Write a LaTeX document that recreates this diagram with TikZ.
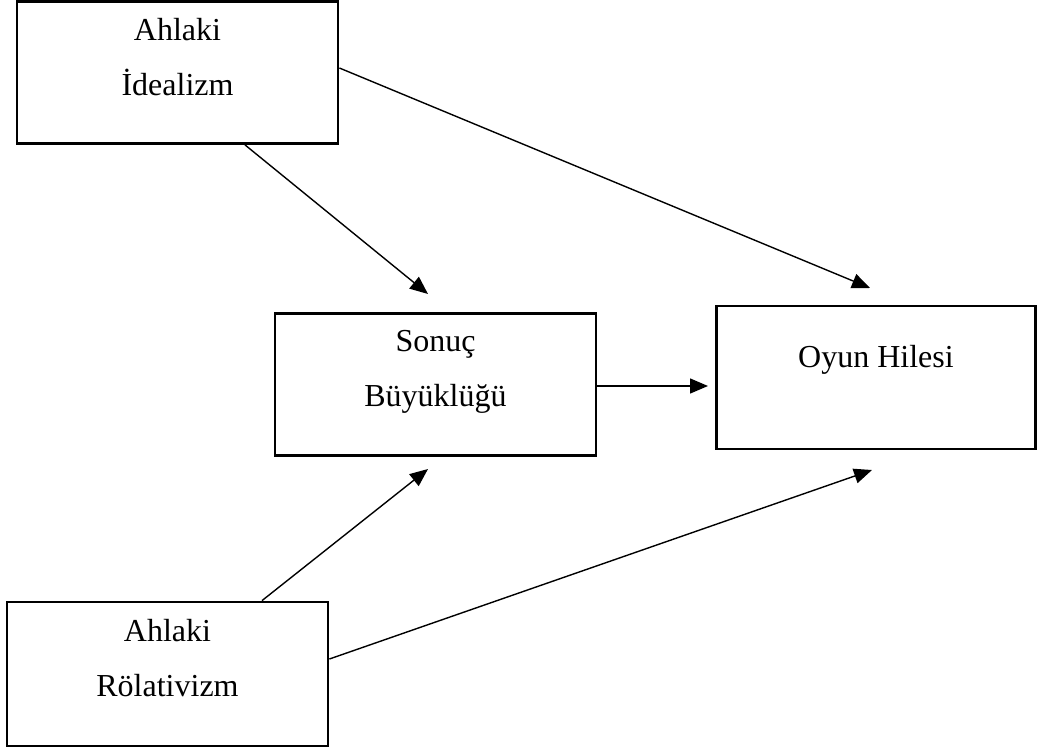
\documentclass[tikz,border=0pt]{standalone}
\usepackage{fontspec}
\setmainfont{Liberation Serif}
\usetikzlibrary{positioning,arrows.meta}

\begin{document}
\begin{tikzpicture}[x=1pt,y=-1pt,
  kutu/.style={draw,line width=2.8pt,minimum width=321pt,minimum height=142pt,inner sep=0pt},
  yazi/.style={align=center,anchor=base,font=\fontsize{32}{55}\selectfont},
  ok/.style={line width=1.4pt,-{Triangle[length=18pt,width=15pt]}}]
\useasboundingbox (0,0) rectangle (1038,749);

\node [kutu] (ideal) at (177.5,72.5) {};
\node [kutu] (sonuc) at (435.5,384.5) {};
\node [kutu, minimum width=319pt, minimum height=143pt] (oyun) at (876,377.5) {};
\node [kutu, minimum height=144pt] (rel) at (167.5,674) {};

% base of the last line
\node [yazi] (idealtxt) at ([yshift=-95.5pt]ideal.north) {Ahlaki\\İdealizm};
\node [yazi] (sonuctxt) at ([yshift=-94pt]sonuc.north) {Sonuç\\Büyüklüğü};
\node [yazi] (oyuntxt) at ([yshift=-63pt]oyun.north) {Oyun Hilesi};
\node [yazi] (reltxt) at ([yshift=-96pt]rel.north) {Ahlaki\\Rölativizm};

\coordinate (uc1) at (428,294);
\coordinate (uc2) at (870,288);
\coordinate (uc3) at (708,386);
\coordinate (uc4) at (428,469);
\coordinate (uc5) at (872,470);

\draw [ok] ([xshift=67.5pt]ideal.south) -- (uc1);
\draw [ok] ([yshift=4.5pt]ideal.east) -- (uc2);
\draw [ok] ([yshift=-1.5pt]sonuc.east) -- (uc3);
\draw [ok] ([xshift=94.5pt]rel.north) -- (uc4);
\draw [ok] ([yshift=15pt]rel.east) -- (uc5);

\end{tikzpicture}
\end{document}
